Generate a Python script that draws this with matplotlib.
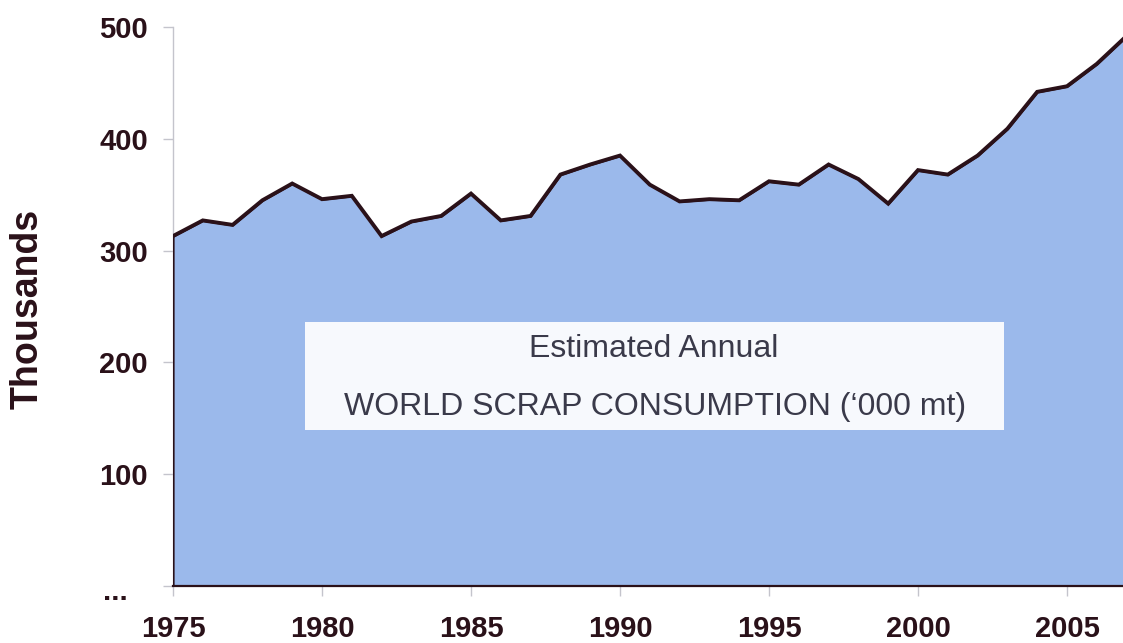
import numpy as np
import matplotlib
matplotlib.use('Agg')
import matplotlib.pyplot as plt
import matplotlib.transforms as mtransforms

# World scrap consumption, thousands of tonnes
years = list(range(1975, 2008))
consumption = [313, 327, 323, 345, 360, 346, 349, 313, 326, 331,
               351, 327, 331, 368, 377, 385, 359, 344, 346, 345,
               362, 359, 377, 364, 342, 372, 368, 385, 409, 442,
               447, 467, 492]

y_ticks = [0, 100, 200, 300, 400, 500]
y_tick_labels = ['...', '100', '200', '300', '400', '500']
x_ticks = [1975, 1980, 1985, 1990, 1995, 2000, 2005]

fill_color = '#9bb9eb'
line_color = '#2a1119'
text_color = '#2a1119'
grey = '#c4c4cc'

plt.rcParams['font.family'] = ['Liberation Sans', 'DejaVu Sans']

fig = plt.figure(figsize=(11.23, 6.43), dpi=100)
ax = fig.add_axes([173 / 1123, 1 - 586 / 643, 950 / 1123, 559 / 643])

ax.fill_between(years, consumption, 0, facecolor=fill_color,
                edgecolor=line_color, linewidth=1.6, zorder=2)
ax.plot(years, consumption, color=line_color, linewidth=2.8, zorder=3,
        solid_joinstyle='miter')

ax.set_xlim(1975, 2006.88)
ax.set_ylim(0, 500)

ax.set_yticks(y_ticks)
ax.set_yticklabels(y_tick_labels)
ax.set_xticks(x_ticks)

ax.tick_params(axis='both', colors=grey, width=1, length=7, direction='out',
               labelcolor=text_color, labelsize=21)
ax.tick_params(axis='y', pad=11)
ax.tick_params(axis='x', pad=14)
for lab in ax.get_xticklabels() + ax.get_yticklabels():
    lab.set_fontweight('bold')

# the zero label is a row of dots sitting a bit further left and lower
dots = ax.get_yticklabels()[0]
dots.set_transform(dots.get_transform() +
                   mtransforms.ScaledTranslation(-14.5 / 72, -2.5 / 72,
                                                 fig.dpi_scale_trans))

for side in ['top', 'right']:
    ax.spines[side].set_visible(False)
ax.spines['left'].set_color(grey)
ax.spines['left'].set_linewidth(1)
ax.spines['bottom'].set_color(line_color)
ax.spines['bottom'].set_linewidth(1.6)
ax.spines['left'].set_zorder(1)

fig.text(28 / 1123, 1 - 309 / 643, 'Thousands', rotation=90, fontsize=27,
         fontweight='bold', color=text_color, ha='center', va='center')

# caption box inside the plot
box_l, box_r, box_t, box_b = 305, 1004, 322, 430
fig.patches.append(plt.Rectangle((box_l / 1123, 1 - box_b / 643),
                                 (box_r - box_l) / 1123, (box_b - box_t) / 643,
                                 transform=fig.transFigure, facecolor='#f7f9fd',
                                 edgecolor='none', zorder=4))
fig.text(654 / 1123, 1 - 349 / 643, 'Estimated Annual', fontsize=23,
         color='#3a3a4a', ha='center', va='center', zorder=5)
fig.text(655 / 1123, 1 - 407 / 643, 'WORLD SCRAP CONSUMPTION (\u2018000 mt)',
         fontsize=23, color='#3a3a4a', ha='center', va='center', zorder=5)

fig.savefig('out.png', dpi=100, facecolor='white')
